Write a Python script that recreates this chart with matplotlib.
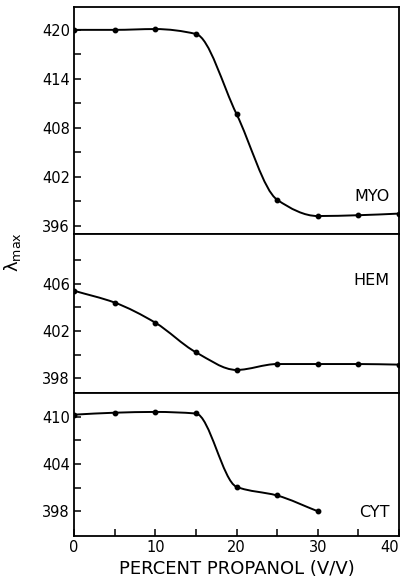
import matplotlib
matplotlib.use('Agg')
import matplotlib.pyplot as plt
import numpy as np
from matplotlib.path import Path
from matplotlib.patches import PathPatch

plt.rcParams['font.family'] = ['DejaVu Sans']

# data
propanol = [0, 5, 10, 15, 20, 25, 30, 35, 40]
myo = [420.0, 420.0, 420.1, 419.5, 409.7, 399.2, 397.2, 397.3, 397.5]
hem = [405.4, 404.4, 402.7, 400.2, 398.7, 399.2, 399.2, 399.2, 399.15]
cyt_x = [0, 5, 10, 15, 20, 25, 30]
cyt = [410.25, 410.5, 410.6, 410.4, 401.1, 400.0, 398.0]

panels = [
    # label, x, y, ylim, major ticks, minor ticks
    ('MYO', propanol, myo, (395.0, 422.8), [396, 402, 408, 414, 420], [399, 405, 411, 417]),
    ('HEM', propanol, hem, (396.75, 410.2), [398, 402, 406], [400, 404, 408]),
    ('CYT', cyt_x, cyt, (394.9, 413.0), [398, 404, 410], [401, 407]),
]
label_y = [0.165, 0.71, 0.16]


def smooth_path(x, y):
    # monotone cubic (pchip-style) bezier through the points
    x = np.asarray(x, float)
    y = np.asarray(y, float)
    h = np.diff(x)
    d = np.diff(y) / h
    m = np.zeros_like(y)
    for i in range(1, len(y) - 1):
        if d[i - 1] * d[i] <= 0:
            m[i] = 0.0
        else:
            w1 = 2 * h[i] + h[i - 1]
            w2 = h[i] + 2 * h[i - 1]
            m[i] = (w1 + w2) / (w1 / d[i - 1] + w2 / d[i])
    m[0] = d[0]
    m[-1] = d[-1]
    verts = [(x[0], y[0])]
    codes = [Path.MOVETO]
    for i in range(len(x) - 1):
        verts += [(x[i] + h[i] / 3, y[i] + m[i] * h[i] / 3),
                  (x[i + 1] - h[i] / 3, y[i + 1] - m[i + 1] * h[i] / 3),
                  (x[i + 1], y[i + 1])]
        codes += [Path.CURVE4] * 3
    return Path(verts, codes)


fig = plt.figure(figsize=(4.05, 5.84), dpi=100)
left, width = 74 / 405, 325 / 405
edges = [7, 234, 393, 535.7]

axes = []
for k, (name, xs, ys, ylim, major, minor) in enumerate(panels):
    top = 1 - edges[k] / 584
    bot = 1 - edges[k + 1] / 584
    ax = fig.add_axes([left, bot, width, top - bot])
    axes.append(ax)
    ax.add_patch(PathPatch(smooth_path(xs, ys), facecolor='none',
                           edgecolor='black', linewidth=1.4))
    ax.plot(xs, ys, 'o', color='black', markersize=3.2)
    ax.set_xlim(0, 40)
    ax.set_ylim(*ylim)
    ax.set_yticks(major)
    ax.set_yticks(minor, minor=True)
    ax.set_xticks([0, 10, 20, 30, 40])
    ax.set_xticks([5, 15, 25, 35], minor=True)
    ax.tick_params(which='both', direction='in', length=5, width=1.1,
                   labelsize=10.5, top=False, right=False, pad=3)
    for s in ax.spines.values():
        s.set_linewidth(1.3)
    ax.text(0.97, label_y[k], name, transform=ax.transAxes,
            ha='right', va='center', fontsize=11.5)
    if k < 2:
        ax.tick_params(axis='x', which='both', labelbottom=False, length=0)

bottom_ax = axes[-1]
bottom_ax.set_xlabel('PERCENT PROPANOL (V/V)', fontsize=13, labelpad=4)
fig.canvas.draw()
bottom_ax.get_xticklabels()[-1].set_horizontalalignment('right')

fig.text(0.03, 1 - 252 / 584, r'λ$_{\mathrm{max}}$', rotation=90,
         ha='center', va='center', fontsize=13)

fig.savefig('out.png', dpi=100)
